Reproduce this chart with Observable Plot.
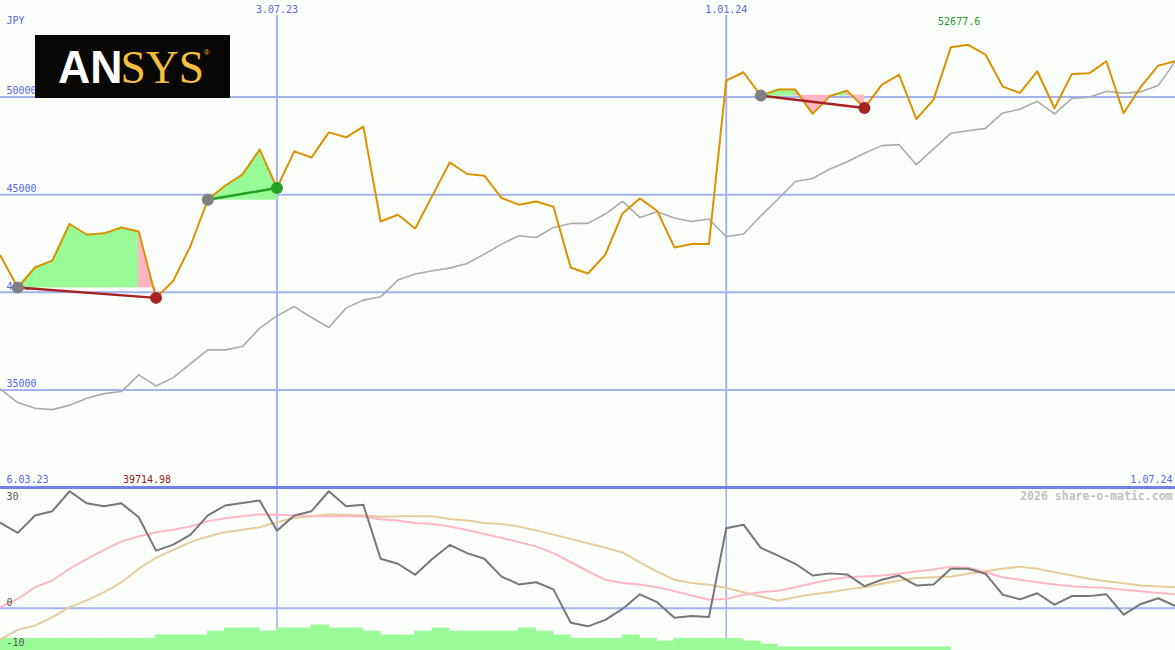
<!DOCTYPE html>
<html><head><meta charset="utf-8">
<script src="https://cdn.jsdelivr.net/npm/d3@7"></script>
<script src="https://cdn.jsdelivr.net/npm/@observablehq/plot@0.6"></script>
<style>
html,body{margin:0;padding:0;background:#fbfefb;}
#chart{position:relative;width:1175px;height:650px;overflow:hidden;background:#fbfefb;}
#chart > svg{position:absolute;left:0;}
</style></head><body><div id="chart"></div>
<script>
// ---- data ----
const startDate = "2023-03-13", endDate = "2024-07-01";
const dates = d3.utcMonday.range(new Date(startDate), d3.utcDay.offset(new Date(endDate), 1));

const price = [
41870, 40246, 41270, 41620, 43500, 42950, 43020, 43320, 43120, 39714.98,
40590, 42385, 44744, 45460, 46030, 47310, 45344, 47220, 46910, 48195,
47940, 48490, 43630, 43975, 43270, 44965, 46655, 46060, 45975, 44830,
44490, 44655, 44385, 41270, 40965, 41925, 44040, 44810, 44180, 42300,
42470, 42470, 50845, 51275, 50077, 50385, 50385, 49140, 50050, 50335,
49446, 50630, 51155, 48880, 49870, 52560, 52677.6, 52180, 50540, 50215,
51325, 49430, 51190, 51220, 51840, 49170, 50540, 51615, 51840];

const benchmark = [
35040, 34350, 34060, 33990, 34220, 34575, 34810, 34915, 35770, 35205,
35630, 36350, 37050, 37050, 37220, 38165, 38795, 39270, 38710, 38195,
39190, 39600, 39770, 40625, 40935, 41105, 41240, 41475, 41955, 42470,
42900, 42810, 43325, 43530, 43530, 44010, 44655, 43835, 44130, 43805,
43630, 43755, 42845, 42985, 43925, 44780, 45680, 45835, 46320, 46690,
47120, 47515, 47565, 46540, 47345, 48145, 48280, 48400, 49190, 49375,
49785, 49140, 49940, 49990, 50300, 50195, 50280, 50590, 51840];

const momentum = [
24.0, 21.2, 26.1, 27.3, 32.9, 29.5, 28.7, 29.5, 25.6, 16.2,
17.9, 20.7, 26.1, 28.9, 29.6, 30.3, 21.8, 26.1, 27.3, 32.9,
28.7, 29.1, 13.9, 12.5, 9.4, 13.9, 17.8, 15.5, 13.9, 8.9,
6.7, 7.3, 5.3, -4.1, -5.1, -3.3, -0.2, 3.9, 1.7, -2.7,
-2.2, -2.5, 22.5, 23.5, 17.0, 14.8, 12.5, 9.2, 9.8, 9.5,
6.2, 8.0, 9.2, 6.4, 6.7, 11.1, 11.1, 9.7, 3.8, 2.5,
4.2, 1.0, 3.4, 3.4, 3.9, -1.8, 1.2, 2.8, 0.6];

const avgFast = [
0.3, 2.6, 5.9, 7.8, 11.1, 13.9, 16.4, 18.8, 20.2, 21.4,
22.1, 23.0, 24.5, 25.3, 25.9, 26.4, 26.3, 26.1, 25.9, 25.9,
25.9, 25.8, 25.0, 24.7, 24.0, 23.7, 23.0, 22.0, 20.9, 19.8,
18.6, 17.4, 15.5, 13.0, 10.4, 8.0, 7.1, 6.7, 5.9, 4.8,
3.6, 2.4, 2.6, 3.8, 4.5, 4.9, 5.9, 7.0, 8.0, 8.7,
8.9, 9.2, 9.7, 10.3, 10.9, 11.7, 11.4, 10.1, 8.7, 8.0,
7.3, 6.7, 6.2, 5.9, 5.7, 5.2, 4.8, 4.3, 3.9];

const avgSlow = [
-8.8, -6.1, -4.9, -2.5, 0.3, 2.2, 4.5, 7.3, 11.1, 14.2,
16.4, 18.6, 20.2, 21.4, 22.1, 22.8, 24.2, 25.4, 25.9, 26.4,
26.3, 26.1, 25.7, 25.9, 25.9, 25.9, 25.1, 24.7, 24.0, 23.7,
23.0, 21.9, 20.7, 19.5, 18.3, 17.0, 15.7, 12.9, 10.3, 8.0,
7.1, 6.6, 5.7, 4.5, 3.3, 2.1, 3.1, 3.9, 4.5, 5.3,
5.9, 6.9, 7.8, 8.5, 8.7, 8.9, 9.7, 10.4, 11.1, 11.7,
11.1, 10.1, 9.2, 8.3, 7.6, 7.0, 6.4, 6.1, 5.9];

const volume = [
3.8, 3.8, 3.8, 3.8, 3.8, 3.8, 3.8, 3.8, 3.8, 4.85,
4.85, 4.85, 6.1, 7.1, 7.1, 6.1, 7.1, 7.1, 8.1, 7.1,
7.1, 6.1, 4.85, 4.85, 6.1, 7.1, 6.1, 6.1, 6.1, 6.1,
7.1, 6.1, 4.85, 3.8, 3.8, 3.8, 4.85, 3.8, 2.9, 3.8,
3.8, 3.8, 3.8, 2.9, 1.9, 1, 1, 1, 1, 1,
1, 1, 1, 1, 1];

const trades = [
  {entry: 1, exit: 9},
  {entry: 12, exit: 16},
  {entry: 44, exit: 50}
];

const priceTicks = [35000, 40000, 45000, 50000];
const dateTicks = [
  {date: new Date("2023-07-03"), label: "3.07.23"},
  {date: new Date("2024-01-01"), label: "1.01.24"}
];
const indicatorTicks = [30, 0, -10];
const currency = "JPY";
const periodStart = "6.03.23", periodEnd = "1.07.24";
const watermark = "2026 share-o-matic.com";

// ---- styles ----
const FONT = "'DejaVu Sans Mono', monospace";
const GRID = "#a4b2f0", SEP = "#7282ea", LABEL = "#5566ee";
const ORANGE = "#db9200", BENCH = "#aaaaaa";
const GAIN_FILL = "#98fb98", LOSS_FILL = "#ffb6c4";
const GAIN = "#22a022", LOSS = "#a52323";

const W = 1175;
const xDomain = [dates[0], dates[dates.length - 1]];

// derived tables
const fillRows = [];
trades.forEach((t, ti) => {
  const base = price[t.entry];
  for (let k = t.entry; k < t.exit; k++) {
    const col = price[k + 1] >= base ? GAIN_FILL : LOSS_FILL;
    const seg = ti + "-" + k;
    fillRows.push({seg, date: dates[k], base, value: price[k], color: col});
    fillRows.push({seg, date: dates[k + 1], base, value: price[k + 1], color: col});
  }
});
const tradeRows = trades.map(t => ({
  x1: dates[t.entry], y1: price[t.entry], x2: dates[t.exit], y2: price[t.exit],
  color: price[t.exit] >= price[t.entry] ? GAIN : LOSS
}));
const series = (arr) => arr.map((v, i) => ({date: dates[i], value: v}));
const minIdx = price.indexOf(d3.min(price));
const maxIdx = price.indexOf(d3.max(price));

// ---- main panel ----
const main = Plot.plot({
  width: W, height: 489, margin: 0,
  style: {background: "transparent", fontFamily: FONT, fontSize: "10px"},
  x: {type: "utc", domain: xDomain, axis: null},
  y: {domain: [29898, 54950], axis: null},
  color: {type: "identity"},
  marks: [
    Plot.ruleY(priceTicks, {stroke: GRID, strokeWidth: 2}),
    Plot.ruleX(dateTicks, {x: "date", stroke: GRID, strokeWidth: 2, insetTop: 15}),
    Plot.ruleY([30000], {stroke: SEP, strokeWidth: 3}),
    Plot.text(priceTicks, {y: d => d, text: d => String(d), frameAnchor: "left", dx: 6, dy: -6, textAnchor: "start", fill: LABEL}),
    Plot.text([currency], {frameAnchor: "top-left", dx: 6, dy: 20, textAnchor: "start", lineAnchor: "middle", fill: LABEL}),
    Plot.text(dateTicks, {x: "date", text: "label", frameAnchor: "top", dy: 9, lineAnchor: "middle", fill: LABEL}),
    Plot.text([periodStart], {frameAnchor: "bottom-left", dx: 6, dy: -10, textAnchor: "start", lineAnchor: "middle", fill: LABEL}),
    Plot.text([periodEnd], {frameAnchor: "bottom-right", dx: -3, dy: -10, textAnchor: "end", lineAnchor: "middle", fill: LABEL}),
    Plot.text([maxIdx], {x: i => dates[i], text: i => String(price[i]), frameAnchor: "top", dx: -9, dy: 21, lineAnchor: "middle", fill: "#229a22"}),
    Plot.text([minIdx], {x: i => dates[i], text: i => String(price[i]), frameAnchor: "bottom", dx: -9, dy: -10, lineAnchor: "middle", fill: "#9a1a1a"}),
    Plot.line(series(benchmark), {x: "date", y: "value", stroke: BENCH, strokeWidth: 1.6}),
    Plot.areaY(fillRows, {x: "date", y1: "base", y2: "value", z: "seg", fill: "color", stroke: "color", strokeWidth: 0.8}),
    Plot.line(series(price), {x: "date", y: "value", stroke: ORANGE, strokeWidth: 2}),
    Plot.link(tradeRows, {x1: "x1", y1: "y1", x2: "x2", y2: "y2", stroke: "color", strokeWidth: 2.5}),
    Plot.dot(tradeRows, {x: "x1", y: "y1", r: 6, fill: "#808080"}),
    Plot.dot(tradeRows, {x: "x2", y: "y2", r: 6, fill: "color"})
  ]
});
main.style.top = "0px";

// ---- volume bars (behind indicator panel) ----
const bars = Plot.plot({
  width: W, height: 161, margin: 0,
  style: {background: "transparent"},
  x: {type: "utc", domain: xDomain, axis: null},
  y: {domain: [0, 52], axis: null},
  marks: [
    Plot.ruleX(dateTicks, {x: "date", stroke: GRID, strokeWidth: 1.6}),
    Plot.rect(volume, {x1: (d, i) => dates[i], x2: (d, i) => dates[i + 1], y1: 0, y2: d => d, fill: GAIN_FILL, stroke: GAIN_FILL, strokeWidth: 0.8})
  ]
});
bars.style.top = "489px";

// ---- indicator panel ----
const lower = Plot.plot({
  width: W, height: 161, margin: 0,
  style: {background: "transparent", fontFamily: FONT, fontSize: "10px"},
  x: {type: "utc", domain: xDomain, axis: null},
  y: {domain: [-11.9, 33.4], axis: null},
  marks: [
    Plot.ruleY([0], {stroke: GRID, strokeWidth: 2}),
    Plot.line(series(avgSlow), {x: "date", y: "value", stroke: "#e4cc9c", strokeWidth: 2}),
    Plot.line(series(avgFast), {x: "date", y: "value", stroke: "#ffb6c6", strokeWidth: 2}),
    Plot.line(series(momentum), {x: "date", y: "value", stroke: "#777777", strokeWidth: 2}),
    Plot.text(indicatorTicks.slice(0, 2), {y: d => d, text: d => String(d), frameAnchor: "left", dx: 6, dy: -5, textAnchor: "start", fill: "#555555"}),
    Plot.text(indicatorTicks.slice(2), {y: d => d, text: d => String(d), frameAnchor: "left", dx: 6, dy: -1, textAnchor: "start", fill: "#555555"}),
    Plot.text([watermark], {frameAnchor: "top-right", dx: -3, dy: 7, textAnchor: "end", lineAnchor: "middle", fill: "#c2c2c2", fontWeight: "bold", fontSize: 11.5})
  ]
});
lower.style.top = "489px";

const chart = document.getElementById("chart");
chart.appendChild(main);
chart.appendChild(bars);
chart.appendChild(lower);

// ---- logo ----
const NS = "http://www.w3.org/2000/svg";
const logo = document.createElementNS(NS, "svg");
logo.setAttribute("width", 195); logo.setAttribute("height", 63);
logo.style.left = "35px"; logo.style.top = "35px";
logo.innerHTML = `
<rect width="195" height="63" fill="#0a0806"/>
<text transform="translate(23,48) scale(0.97,1)" font-family="'Liberation Sans', Arial, sans-serif" font-weight="bold" font-size="46" fill="#ffffff">AN<tspan font-family="'Liberation Serif', 'Times New Roman', serif" font-weight="normal" font-size="47" fill="#f3be3e" dx="-2">SYS</tspan><tspan font-family="'Liberation Sans', Arial, sans-serif" font-weight="normal" font-size="8" fill="#f3be3e" dy="-28">®</tspan></text>`;
chart.appendChild(logo);
</script></body></html>
